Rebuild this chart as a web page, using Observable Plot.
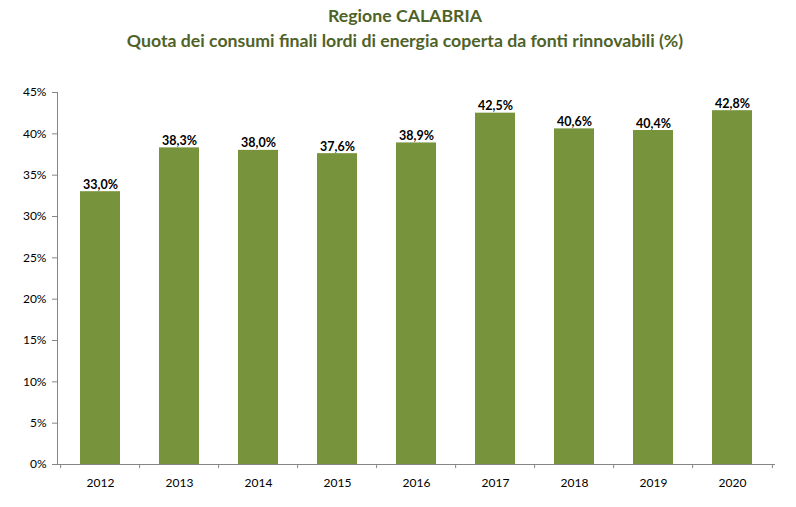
<!DOCTYPE html>
<html>
<head>
<meta charset="utf-8">
<script src="https://cdn.jsdelivr.net/npm/d3@7"></script>
<script src="https://cdn.jsdelivr.net/npm/@observablehq/plot@0.6"></script>
<style>
  html, body { margin: 0; padding: 0; background: #fff; }
  #wrap { width: 796px; font-family: Lato, "Open Sans", sans-serif; }
  #title { height: 60px; text-align: center; color: #4F6228; font-weight: bold; font-size: 17.7px; line-height: 25px; padding-top: 3px; padding-left: 14px; box-sizing: border-box; }
  svg { display: block; }
</style>
</head>
<body>
<div id="wrap">
  <div id="title">Regione CALABRIA<br>Quota dei consumi finali lordi di energia coperta da fonti rinnovabili (%)</div>
  <div id="chart"></div>
</div>
<script>
const years = ["2012", "2013", "2014", "2015", "2016", "2017", "2018", "2019", "2020"];
const shares = [33.0, 38.3, 38.0, 37.6, 38.9, 42.5, 40.6, 40.4, 42.8];
const yTicks = [0, 5, 10, 15, 20, 25, 30, 35, 40, 45];

const data = years.map((y, i) => ({year: y, value: shares[i]}));

const W = 796, H = 447, mL = 57, mR = 21, mT = 32, mB = 43;
const step = (W - mL - mR) / years.length;
const axisColor = "#868686";
const fmt = v => v.toFixed(1).replace(".", ",") + "%";

const chart = Plot.plot({
  width: W, height: H,
  marginLeft: mL, marginRight: mR, marginTop: mT, marginBottom: mB,
  style: {fontFamily: "Lato, 'Open Sans', sans-serif", fontSize: "12px", color: "#000", background: "#fff"},
  x: {domain: years, paddingInner: 0.5, paddingOuter: 0.25, label: null},
  y: {domain: [0, 45], label: null},
  marks: [
    Plot.barY(data, {x: "year", y: "value", fill: "#77933C"}),
    Plot.ruleY([0], {stroke: axisColor}),
    Plot.frame({anchor: "left", stroke: axisColor}),
    Plot.ruleX(years, {x: d => d, y1: 0, y2: -0.5, dx: -step / 2, stroke: axisColor}),
    Plot.ruleX([years[years.length - 1]], {x: d => d, y1: 0, y2: -0.5, dx: step / 2, stroke: axisColor}),
    Plot.axisY({ticks: yTicks, tickFormat: d => d + "%", tickSize: 5, tickPadding: 6, stroke: axisColor, fill: "#000", fontSize: 12}),
    Plot.axisX({tickSize: 0, tickPadding: 14, fill: "#000", fontSize: 12}),
    Plot.text(data, {x: "year", y: "value", text: d => fmt(d.value), lineAnchor: "bottom", dy: -3, fontWeight: "bold", fontSize: 12.5, fill: "#000"})
  ]
});
document.getElementById("chart").appendChild(chart);
</script>
</body>
</html>
